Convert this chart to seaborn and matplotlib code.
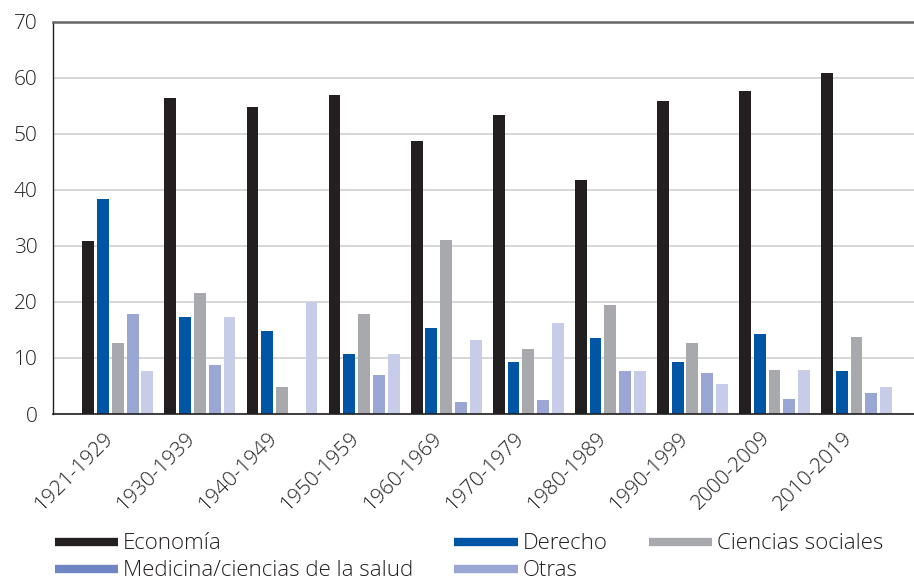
import pandas as pd
import matplotlib.pyplot as plt
import matplotlib.transforms as mtransforms
import seaborn as sns
from matplotlib.lines import Line2D

decadas = ['1921-1929', '1930-1939', '1940-1949', '1950-1959', '1960-1969',
           '1970-1979', '1980-1989', '1990-1999', '2000-2009', '2010-2019']
economia = [30.8, 56.4, 54.8, 56.9, 48.8, 53.4, 41.8, 55.8, 57.7, 60.9]
derecho = [38.3, 17.3, 14.8, 10.8, 15.4, 9.2, 13.5, 9.2, 14.3, 7.6]
ciencias_sociales = [12.7, 21.6, 4.9, 17.8, 31.1, 11.6, 19.5, 12.7, 7.9, 13.8]
medicina = [17.8, 8.7, 0.0, 7.0, 2.1, 2.5, 7.6, 7.3, 2.7, 3.8]
otras = [7.6, 17.3, 20.0, 10.8, 13.2, 16.2, 7.6, 5.4, 7.9, 4.9]

areas = ['Economía', 'Derecho', 'Ciencias sociales', 'Medicina/ciencias de la salud', 'Otras']
colores = ['#231f20', '#0055a5', '#a7a9ac', '#9aa6d4', '#c7cde8']
colores_leyenda = ['#231f20', '#0055a5', '#a7a9ac', '#6e87c4', '#9aa6d4']

series = [economia, derecho, ciencias_sociales, medicina, otras]
rows = []
for area, vals in zip(areas, series):
    for d, v in zip(decadas, vals):
        rows.append({'Decada': d, 'Area': area, 'Valor': v})
df = pd.DataFrame(rows)

sns.set_style("white")
plt.rcParams['font.family'] = ['Open Sans', 'DejaVu Sans']
plt.rcParams['font.weight'] = 'light'

fig = plt.figure(figsize=(9.14, 5.8), dpi=100)
ax = fig.add_axes([0.058, 0.2862, 0.942, 0.676])

sns.barplot(data=df, x='Decada', y='Valor', hue='Area', hue_order=areas,
            palette=colores, saturation=1, width=0.9, gap=0.2, linewidth=0,
            ax=ax, legend=False)

ax.set_ylim(0, 70)
ax.set_xlim(-0.79, 9.7)
ax.set_yticks(range(0, 71, 10))
ax.yaxis.grid(True, color='#d0d0d0', linewidth=1.2)
ax.set_axisbelow(True)
ax.set_xlabel('')
ax.set_ylabel('')

ax.spines['right'].set_visible(False)
ax.spines['top'].set_color('#666666')
ax.spines['top'].set_linewidth(1.8)
ax.spines['left'].set_color('#231f20')
ax.spines['left'].set_linewidth(1.0)
ax.spines['bottom'].set_color('#231f20')
ax.spines['bottom'].set_linewidth(1.2)

ax.tick_params(axis='y', length=8, color='#cccccc', width=1.2, labelsize=15,
               labelcolor='#231f20', pad=3)
yt = ax.yaxis.get_major_ticks()
yt[0].tick1line.set_color('#231f20')
yt[-1].tick1line.set_color('#666666')

ax.set_xticks(range(len(decadas)))
ax.set_xticklabels(decadas, rotation=45, ha='right', rotation_mode='anchor')
ax.tick_params(axis='x', which='major', length=0, labelsize=15,
               labelcolor='#231f20', pad=10)
ax.set_xticks([i + 0.5 for i in range(len(decadas) - 1)], minor=True)
ax.tick_params(axis='x', which='minor', length=10, color='#231f20', width=1.0)
offset = mtransforms.ScaledTranslation(-0.14, 0, fig.dpi_scale_trans)
for lab in ax.get_xticklabels():
    lab.set_transform(lab.get_transform() + offset)

orden = [0, 3, 1, 4, 2]
handles = [Line2D([0], [0], color=colores_leyenda[i], lw=6, solid_capstyle='butt')
           for i in orden]
labels = [areas[i] for i in orden]
fig.legend(handles, labels, ncol=3, loc='lower left', bbox_to_anchor=(0.038, -0.037),
           frameon=False, fontsize=16, handlelength=2.85, handletextpad=0.22,
           columnspacing=1.85, labelspacing=0.27, labelcolor='#231f20')

fig.savefig('out.png', dpi=100)
